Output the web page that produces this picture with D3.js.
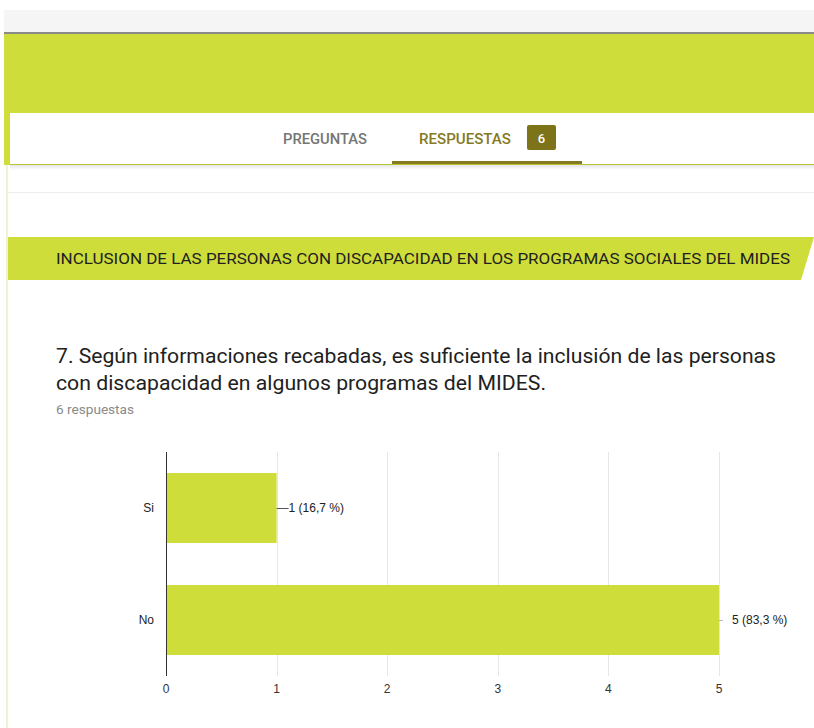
<!DOCTYPE html>
<html>
<head>
<meta charset="utf-8">
<script src="https://cdn.jsdelivr.net/npm/d3@7"></script>
<style>
  body { margin: 0; background: #fff; }
  svg text { font-family: Roboto, "Noto Sans", sans-serif; }
  .chart text { font-family: "Liberation Sans", Arial, sans-serif; }
</style>
</head>
<body>
<div id="my_dataviz"></div>
<script>
// data
var categories = ["Si", "No"];
var counts = [1, 5];
var valueLabels = ["1 (16,7 %)", "5 (83,3 %)"];
var xTicks = [0, 1, 2, 3, 4, 5];

var W = 814, H = 728;
var green = "#cfdd3a", olive = "#857a1f";

var svg = d3.select("#my_dataviz").append("svg")
    .attr("width", W).attr("height", H);

// page chrome
svg.append("rect").attr("x", 4).attr("y", 10).attr("width", W).attr("height", 23).attr("fill", "#f5f5f5");
svg.append("rect").attr("x", 4).attr("y", 32).attr("width", W).attr("height", 2).attr("fill", "#8a8a8a");
svg.append("rect").attr("x", 4).attr("y", 34).attr("width", W).attr("height", 131).attr("fill", green);

// shadow under tab bar
var defs = svg.append("defs");
var sh = defs.append("linearGradient").attr("id", "sh").attr("x1", 0).attr("y1", 0).attr("x2", 0).attr("y2", 1);
sh.append("stop").attr("offset", 0).attr("stop-color", "#000").attr("stop-opacity", 0.12);
sh.append("stop").attr("offset", 1).attr("stop-color", "#000").attr("stop-opacity", 0);
svg.append("rect").attr("x", 10).attr("y", 164).attr("width", W).attr("height", 6).attr("fill", "url(#sh)");

svg.append("rect").attr("x", 10).attr("y", 113).attr("width", W).attr("height", 51).attr("fill", "#fff");

// card edges
svg.append("line").attr("x1", 7).attr("x2", 7).attr("y1", 165).attr("y2", H).attr("stroke", "#eef2d6").attr("stroke-width", 2);
svg.append("line").attr("x1", 8).attr("x2", W).attr("y1", 192.5).attr("y2", 192.5).attr("stroke", "#ececec");

// tabs
svg.append("text").attr("x", 283).attr("y", 144).attr("textLength", 84).attr("lengthAdjust", "spacingAndGlyphs")
    .attr("font-size", 14).attr("font-weight", 500).attr("fill", "#757575").text("PREGUNTAS");
svg.append("text").attr("x", 419).attr("y", 144).attr("textLength", 92).attr("lengthAdjust", "spacingAndGlyphs")
    .attr("font-size", 14).attr("font-weight", 500).attr("fill", olive).text("RESPUESTAS");
svg.append("rect").attr("x", 527).attr("y", 125).attr("width", 29).attr("height", 25).attr("rx", 2).attr("fill", "#7d7319");
svg.append("text").attr("x", 541.5).attr("y", 143).attr("text-anchor", "middle")
    .attr("font-size", 13).attr("font-weight", 500).attr("fill", "#fff").text("6");
svg.append("rect").attr("x", 392).attr("y", 161).attr("width", 190).attr("height", 3).attr("fill", olive);

// section banner
svg.append("path").attr("d", "M8,237 L814,237 L801,280 L8,280 Z").attr("fill", green);
svg.append("text").attr("x", 56).attr("y", 264).attr("font-size", 15).attr("fill", "#212121")
    .attr("textLength", 734).attr("lengthAdjust", "spacingAndGlyphs")
    .text("INCLUSION DE LAS PERSONAS CON DISCAPACIDAD EN LOS PROGRAMAS SOCIALES DEL MIDES");

// question
svg.append("text").attr("x", 56).attr("y", 363).attr("font-size", 21).attr("fill", "#212121")
    .attr("textLength", 720).attr("lengthAdjust", "spacingAndGlyphs")
    .text("7. Según informaciones recabadas, es suficiente la inclusión de las personas");
svg.append("text").attr("x", 56).attr("y", 390).attr("font-size", 21).attr("fill", "#212121")
    .attr("textLength", 490).attr("lengthAdjust", "spacingAndGlyphs")
    .text("con discapacidad en algunos programas del MIDES.");
svg.append("text").attr("x", 56).attr("y", 414).attr("font-size", 13).attr("fill", "#8a8a8a")
    .attr("textLength", 78).attr("lengthAdjust", "spacingAndGlyphs")
    .text("6 respuestas");

// bar chart
var plotL = 166, plotR = 719, plotT = 452, plotB = 676;
var x = d3.scaleLinear().domain([0, 5]).range([plotL, plotR]);
var y = d3.scaleBand().domain(categories).range([plotT, plotB]).paddingInner(0.375).paddingOuter(0.1875);

var g = svg.append("g").attr("class", "chart");

g.selectAll(".grid").data(xTicks.slice(1)).enter().append("line")
    .attr("class", "grid")
    .attr("x1", function(d) { return Math.round(x(d)) + 0.5; }).attr("x2", function(d) { return Math.round(x(d)) + 0.5; })
    .attr("y1", plotT).attr("y2", plotB).attr("stroke", "#e6e6e6");

var data = categories.map(function(c, i) { return { cat: c, n: counts[i], label: valueLabels[i] }; });

g.selectAll(".bar").data(data).enter().append("rect")
    .attr("class", "bar")
    .attr("x", x(0)).attr("y", function(d) { return y(d.cat); })
    .attr("width", function(d) { return x(d.n) - x(0); })
    .attr("height", y.bandwidth()).attr("fill", green);

g.append("line").attr("x1", plotL + 0.5).attr("x2", plotL + 0.5).attr("y1", plotT).attr("y2", plotB)
    .attr("stroke", "#333");

// category labels
g.selectAll(".cat").data(data).enter().append("text")
    .attr("class", "cat")
    .attr("x", 154).attr("y", function(d) { return y(d.cat) + y.bandwidth() / 2 + 4; })
    .attr("text-anchor", "end").attr("font-size", 12).attr("fill", "#222").text(function(d) { return d.cat; });

// value labels with leader lines
g.selectAll(".lead").data(data).enter().append("line")
    .attr("class", "lead")
    .attr("x1", function(d) { return x(d.n); })
    .attr("x2", function(d) { return x(d.n) + (d.n === 5 ? 4 : 12); })
    .attr("y1", function(d) { return Math.round(y(d.cat) + y.bandwidth() / 2) + 0.5; })
    .attr("y2", function(d) { return Math.round(y(d.cat) + y.bandwidth() / 2) + 0.5; })
    .attr("stroke", function(d) { return d.n === 5 ? "#bbb" : "#555"; });
g.selectAll(".val").data(data).enter().append("text")
    .attr("class", "val")
    .attr("x", function(d) { return x(d.n) + (d.n === 5 ? 13 : 12); })
    .attr("y", function(d) { return y(d.cat) + y.bandwidth() / 2 + 4; })
    .attr("font-size", 12).attr("fill", "#222").text(function(d) { return d.label; });

// x tick labels
g.selectAll(".xt").data(xTicks).enter().append("text")
    .attr("class", "xt")
    .attr("x", function(d) { return x(d); }).attr("y", 693)
    .attr("text-anchor", "middle").attr("font-size", 12).attr("fill", "#333").text(function(d) { return d; });
</script>
</body>
</html>
